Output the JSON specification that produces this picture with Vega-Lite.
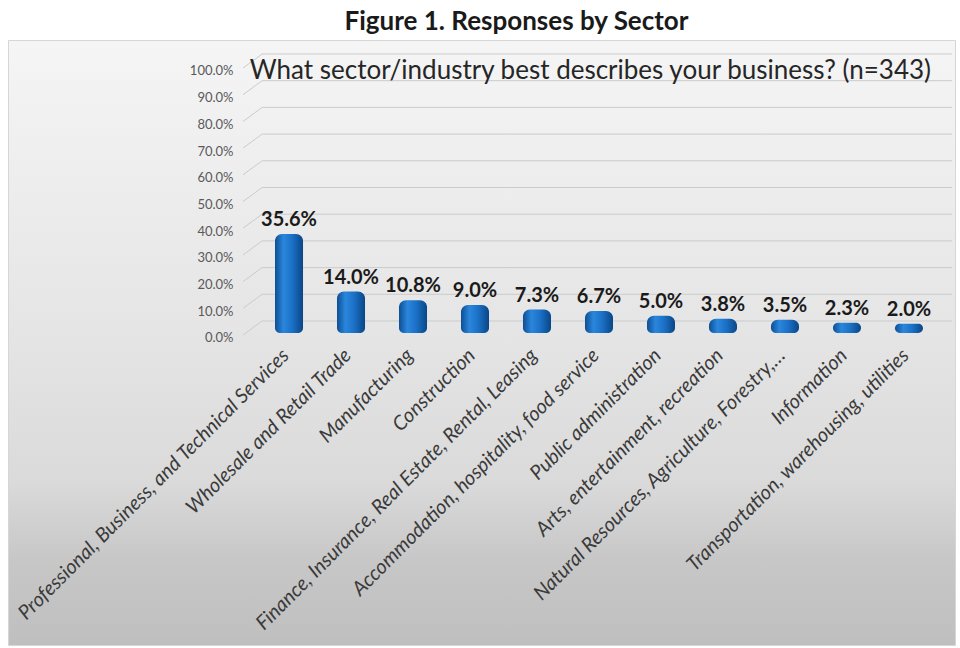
{
  "$schema": "https://vega.github.io/schema/vega-lite/v6.json",
  "width": 947,
  "height": 605,
  "autosize": {"type": "none"},
  "padding": {"left": 8, "top": 40, "right": 5, "bottom": 3},
  "background": "white",
  "view": {
    "stroke": "#d6d6d6",
    "strokeWidth": 1,
    "fill": {
      "gradient": "linear", "x1": 0, "y1": 0, "x2": 0, "y2": 1,
      "stops": [
        {"offset": 0, "color": "#f5f5f5"},
        {"offset": 0.48, "color": "#e5e5e5"},
        {"offset": 0.73, "color": "#dadada"},
        {"offset": 0.86, "color": "#c7c7c7"},
        {"offset": 1, "color": "#bfbfbf"}
      ]
    }
  },
  "title": {
    "text": "Figure 1. Responses by Sector",
    "font": "Lato",
    "fontSize": 26,
    "fontWeight": "bold",
    "color": "#1a1a1a",
    "anchor": "middle",
    "frame": "group",
    "dx": 35,
    "offset": 5
  },
  "datasets": {
    "sectors": [
      {"sector": "Professional, Business, and Technical Services", "pct": 0.356},
      {"sector": "Wholesale and Retail Trade", "pct": 0.140},
      {"sector": "Manufacturing", "pct": 0.108},
      {"sector": "Construction", "pct": 0.090},
      {"sector": "Finance, Insurance, Real Estate, Rental, Leasing", "pct": 0.073},
      {"sector": "Accommodation, hospitality, food service", "pct": 0.067},
      {"sector": "Public administration", "pct": 0.050},
      {"sector": "Arts, entertainment, recreation", "pct": 0.038},
      {"sector": "Natural Resources, Agriculture, Forestry,…", "pct": 0.035},
      {"sector": "Information", "pct": 0.023},
      {"sector": "Transportation, warehousing, utilities", "pct": 0.020}
    ],
    "ticks": [
      {"v": 0}, {"v": 0.1}, {"v": 0.2}, {"v": 0.3}, {"v": 0.4}, {"v": 0.5},
      {"v": 0.6}, {"v": 0.7}, {"v": 0.8}, {"v": 0.9}, {"v": 1.0}
    ],
    "question": [
      {"q": "What sector/industry best describes your business? (n=343)"}
    ]
  },
  "layer": [
    {
      "data": {"name": "ticks"},
      "mark": {"type": "rule", "color": "#cbcbcb", "strokeWidth": 1},
      "encoding": {
        "x": {"datum": "Professional, Business, and Technical Services", "type": "nominal", "bandPosition": -0.46},
        "x2": {"datum": "Transportation, warehousing, utilities", "bandPosition": 2.04},
        "y": {"field": "v", "type": "quantitative"}
      }
    },
    {
      "data": {"name": "ticks"},
      "mark": {"type": "rule", "color": "#cbcbcb", "strokeWidth": 1, "yOffset": 14},
      "encoding": {
        "x": {"datum": "Professional, Business, and Technical Services", "type": "nominal", "bandPosition": -1.14},
        "x2": {"datum": "Professional, Business, and Technical Services", "bandPosition": -0.46},
        "y": {"field": "v", "type": "quantitative"},
        "y2": {"field": "v"}
      }
    },
    {
      "data": {"name": "sectors"},
      "mark": {
        "type": "bar",
        "yOffset": 8,
        "y2Offset": 12,
        "cornerRadiusTopLeft": 7,
        "cornerRadiusTopRight": 7,
        "cornerRadiusBottomLeft": 5,
        "cornerRadiusBottomRight": 5,
        "fill": {
          "gradient": "linear", "x1": 0, "y1": 0, "x2": 1, "y2": 0,
          "stops": [
            {"offset": 0, "color": "#0d4f94"},
            {"offset": 0.3, "color": "#2a86dc"},
            {"offset": 0.6, "color": "#1b72c8"},
            {"offset": 1, "color": "#0a4686"}
          ]
        }
      },
      "encoding": {
        "x": {
          "field": "sector",
          "type": "nominal",
          "sort": null,
          "scale": {
            "type": "band",
            "domain": [
              "Professional, Business, and Technical Services",
              "Wholesale and Retail Trade",
              "Manufacturing",
              "Construction",
              "Finance, Insurance, Real Estate, Rental, Leasing",
              "Accommodation, hospitality, food service",
              "Public administration",
              "Arts, entertainment, recreation",
              "Natural Resources, Agriculture, Forestry,…",
              "Information",
              "Transportation, warehousing, utilities"
            ],
            "range": [267, 915],
            "paddingInner": 0.548,
            "paddingOuter": 0,
            "round": false
          },
          "axis": {
            "title": null,
            "orient": "bottom",
            "offset": -298,
            "labelAngle": -45,
            "labelAlign": "right",
            "labelBaseline": "middle",
            "labelPadding": 5,
            "labelOffset": -3,
            "labelLimit": 0,
            "labelOverlap": false,
            "labelBound": false,
            "labelFlush": false,
            "labelFont": "Lato",
            "labelFontSize": 20,
            "labelFontStyle": "italic",
            "labelColor": "#3a3a3a",
            "ticks": false,
            "domain": false,
            "grid": false
          }
        },
        "y": {
          "field": "pct",
          "type": "quantitative",
          "scale": {"domain": [-1.2135, 1.0524], "nice": false, "zero": false},
          "axis": {
            "title": null,
            "orient": "left",
            "offset": -230,
            "values": [0, 0.1, 0.2, 0.3, 0.4, 0.5, 0.6, 0.7, 0.8, 0.9, 1.0],
            "format": ".1%",
            "labelPadding": 5,
            "labelOffset": 17,
            "labelFont": "Lato",
            "labelFontSize": 13,
            "labelColor": "#595959",
            "ticks": false,
            "domain": false,
            "grid": false
          }
        },
        "y2": {"datum": 0}
      }
    },
    {
      "data": {"name": "sectors"},
      "mark": {
        "type": "text",
        "font": "Lato",
        "fontSize": 20,
        "fontWeight": "bold",
        "color": "#1a1a1a",
        "baseline": "alphabetic",
        "align": "center",
        "dy": 0
      },
      "encoding": {
        "x": {"field": "sector", "type": "nominal", "sort": null},
        "y": {"field": "pct", "type": "quantitative"},
        "text": {"field": "pct", "type": "quantitative", "format": ".1%"}
      }
    },
    {
      "data": {"name": "question"},
      "mark": {
        "type": "text",
        "font": "Lato",
        "fontSize": 26,
        "color": "#262626",
        "align": "left",
        "baseline": "middle",
        "dy": 17
      },
      "encoding": {
        "x": {"datum": "Professional, Business, and Technical Services", "type": "nominal", "bandPosition": -0.9},
        "y": {"datum": 1.0, "type": "quantitative"},
        "text": {"field": "q", "type": "nominal"}
      }
    }
  ]
}
